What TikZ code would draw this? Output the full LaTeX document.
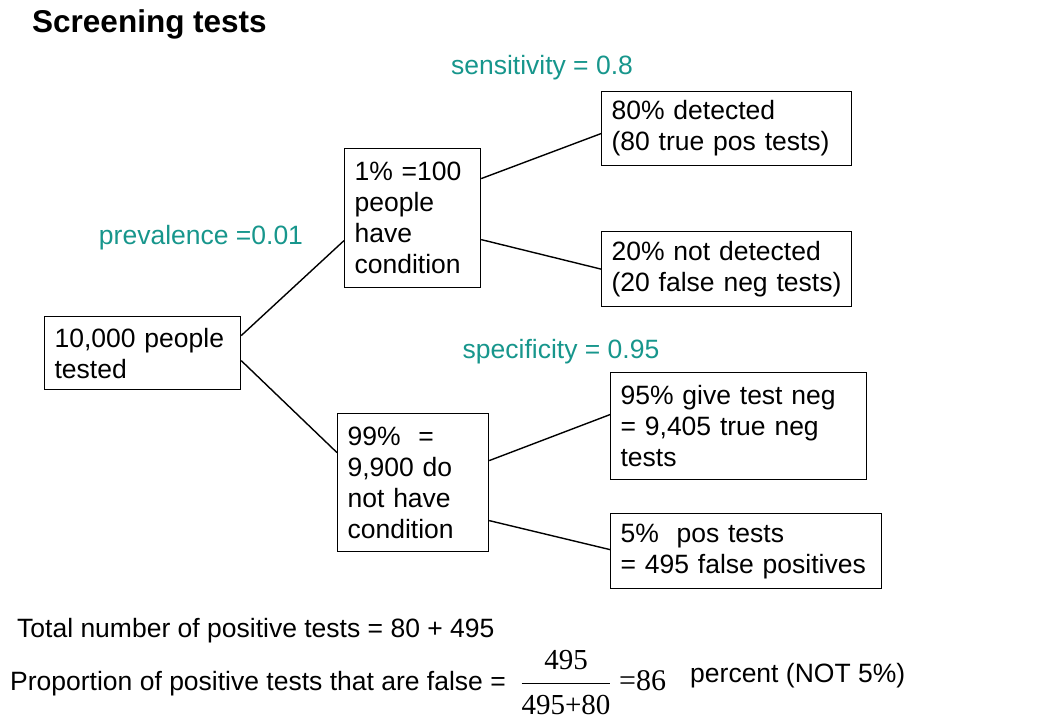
\documentclass[tikz,border=0pt]{standalone}
\usepackage{fontspec}
\setmainfont{Liberation Sans}
\newfontfamily\timesfont{Liberation Serif}
\definecolor{rateteal}{RGB}{23,150,140}
\begin{document}
\begin{tikzpicture}[x=1pt, y=-1pt,
		box/.style={draw, line width=1.2pt, anchor=north west, align=left, inner xsep=10pt, inner ysep=0pt},
		rate/.style={text=rateteal},
		plain/.style={anchor=west, inner sep=0pt},
		branch/.style={line width=1.4pt}]
	\useasboundingbox (0,0) rectangle (1040,720);
	\fontsize{26.5}{31}\selectfont
	
	\node[plain, font=\fontsize{31.5}{36}\selectfont\bfseries] (title) at (32, 24) {Screening tests};
	
	% boxes of the tree
	\node[box, text width=176pt, minimum height=73pt] (tested) at (44, 316) {10,000 people\\tested};
	\node[box, text width=116pt, minimum height=139pt] (have) at (344, 148) {1\% =100\\people\\have\\condition};
	\node[box, text width=131pt, minimum height=138pt] (havenot) at (337, 413) {99\%~~=\\9,900 do\\not have\\condition};
	\node[box, text width=230pt, minimum height=74pt] (truepos) at (601, 91) {80\% detected\\(80 true pos tests)};
	\node[box, text width=230pt, minimum height=75pt] (falseneg) at (601, 231) {20\% not detected\\(20 false neg tests)};
	\node[box, text width=236pt, minimum height=107pt] (trueneg) at (610, 372) {95\% give test neg\\= 9,405 true neg\\tests};
	\node[box, text width=251pt, minimum height=75pt] (falsepos) at (610, 513) {5\%~~pos tests\\= 495 false positives};
	
	\node[rate] (prev) at (201, 238) {prevalence =0.01};
	\node[rate] (sens) at (542, 68) {sensitivity = 0.8};
	\node[rate] (spec) at (561, 352) {specificity = 0.95};
	
	\draw[branch] ([yshift=17.5pt]tested.east) -- ([yshift=-22.5pt]have.west);
	\draw[branch] ([yshift=-7.5pt]tested.east) -- ([yshift=30pt]havenot.west);
	\draw[branch] ([yshift=39.5pt]have.east) -- ([yshift=-5pt]truepos.west);
	\draw[branch] ([yshift=-21.5pt]have.east) -- (falseneg.west);
	\draw[branch] ([yshift=22pt]havenot.east) -- ([yshift=11.5pt]trueneg.west);
	\draw[branch] ([yshift=-38pt]havenot.east) -- ([yshift=1.5pt]falsepos.west);
	
	% sums at the bottom
	\node[plain] (total) at (17, 631) {Total number of positive tests = 80 + 495};
	\node[plain] (prop) at (10, 684) {Proportion of positive tests that are false =};
	\node[inner sep=0pt, font=\timesfont\fontsize{29}{35}\selectfont] (frac) at (566, 683)
		{\renewcommand{\arraystretch}{1.25}\setlength{\arrayrulewidth}{1pt}\begin{tabular}{@{}c@{}}495\\\hline 495+80\end{tabular}};
	\node[plain, font=\timesfont\fontsize{30}{35}\selectfont] (result) at (619, 681) {=86};
	\node[plain] (pct) at (690, 676) {percent (NOT 5\%)};
\end{tikzpicture}
\end{document}
